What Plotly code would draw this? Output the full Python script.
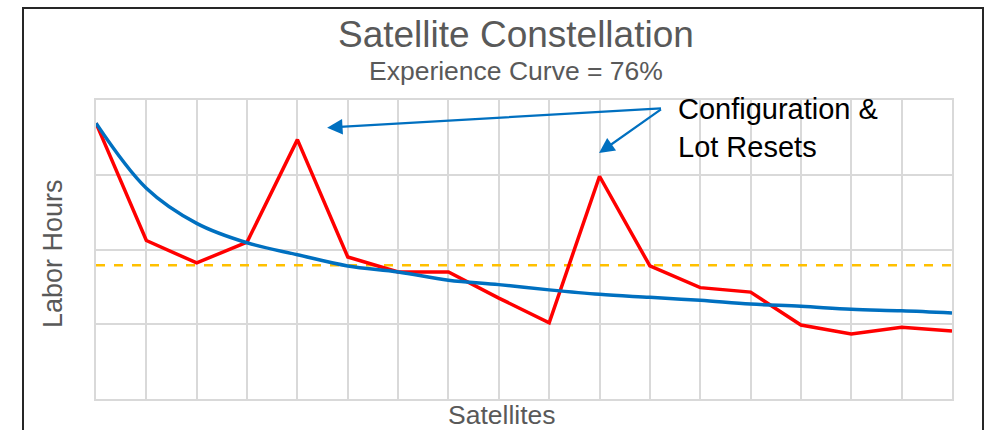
import plotly.graph_objects as go

satellites = list(range(1, 19))
actual_hours = [3.69, 2.12, 1.82, 2.10, 3.47, 1.90, 1.70, 1.70, 1.35, 1.02,
                2.98, 1.78, 1.49, 1.43, 0.99, 0.87, 0.96, 0.91]
curve_hours = [3.69, 2.82, 2.35, 2.09, 1.93, 1.78, 1.70, 1.59, 1.53, 1.46,
               1.40, 1.36, 1.32, 1.27, 1.24, 1.20, 1.18, 1.15]
average_hours = [1.79] * len(satellites)

FONT = "Liberation Sans, Arial, sans-serif"
GRID = "#D9D9D9"
BLUE = "#0070C0"

fig = go.Figure()
fig.add_trace(go.Scatter(x=satellites, y=average_hours, mode="lines",
                         line=dict(color="#FFC000", width=2.6, dash="dash"),
                         hoverinfo="skip"))
fig.add_trace(go.Scatter(x=satellites, y=actual_hours, mode="lines",
                         line=dict(color="#FF0000", width=3.5)))
fig.add_trace(go.Scatter(x=satellites, y=curve_hours, mode="lines",
                         line=dict(color=BLUE, width=3.5, shape="spline", smoothing=1.0)))

W, H = 987, 430
L, R, T, B = 96, 35, 100, 31
pw, ph = W - L - R, H - T - B

def px(xp):
    return (xp - L) / pw

def py(yp):
    return (H - B - yp) / ph

annotations = [
    dict(text="Satellite Constellation", x=px(516), y=py(35), xref="paper", yref="paper",
         xanchor="center", yanchor="middle", showarrow=False,
         font=dict(family=FONT, size=37, color="#595959")),
    dict(text="Experience Curve = 76%", x=px(516), y=py(71), xref="paper", yref="paper",
         xanchor="center", yanchor="middle", showarrow=False,
         font=dict(family=FONT, size=26.5, color="#595959")),
    dict(text="Labor Hours", x=px(53), y=py(254), xref="paper", yref="paper",
         xanchor="center", yanchor="middle", showarrow=False, textangle=-90,
         font=dict(family=FONT, size=27, color="#595959")),
    dict(text="Satellites", x=px(502), y=py(414.5), xref="paper", yref="paper",
         xanchor="center", yanchor="middle", showarrow=False,
         font=dict(family=FONT, size=26.5, color="#595959")),
    dict(text="Configuration &<br>Lot Resets", x=px(676), y=py(128), xref="paper", yref="paper",
         xanchor="left", yanchor="middle", align="left", showarrow=False,
         font=dict(family=FONT, size=29, color="#000000")),
    dict(text="", x=5.59, y=3.63, ax=12.25, ay=3.89, xref="x", yref="y", axref="x", ayref="y",
         showarrow=True, arrowhead=2, arrowsize=1.4, arrowwidth=2.2, arrowcolor=BLUE),
    dict(text="", x=10.99, y=3.29, ax=12.25, ay=3.89, xref="x", yref="y", axref="x", ayref="y",
         showarrow=True, arrowhead=2, arrowsize=1.4, arrowwidth=2.2, arrowcolor=BLUE),
]

fig.update_layout(
    width=W, height=H,
    margin=dict(l=L, r=R, t=T, b=B),
    paper_bgcolor="white", plot_bgcolor="white",
    showlegend=False,
    annotations=annotations,
    shapes=[dict(type="rect", xref="paper", yref="paper",
                 x0=px(23), x1=px(983), y0=py(460), y1=py(8),
                 line=dict(color="#262626", width=2), layer="above")],
    xaxis=dict(range=[1, 18], dtick=1, tick0=1, showgrid=True, gridcolor=GRID, gridwidth=1.5,
               showticklabels=False, ticks="", zeroline=False,
               showline=True, mirror=True, linecolor=GRID, linewidth=1.5),
    yaxis=dict(range=[0, 4], dtick=1, showgrid=True, gridcolor=GRID, gridwidth=1.5,
               showticklabels=False, ticks="", zeroline=False,
               showline=True, mirror=True, linecolor=GRID, linewidth=1.5),
)

fig.write_html("out.html", config={"displayModeBar": False},
               post_script="document.body.style.margin='0';document.body.style.overflow='hidden';")
